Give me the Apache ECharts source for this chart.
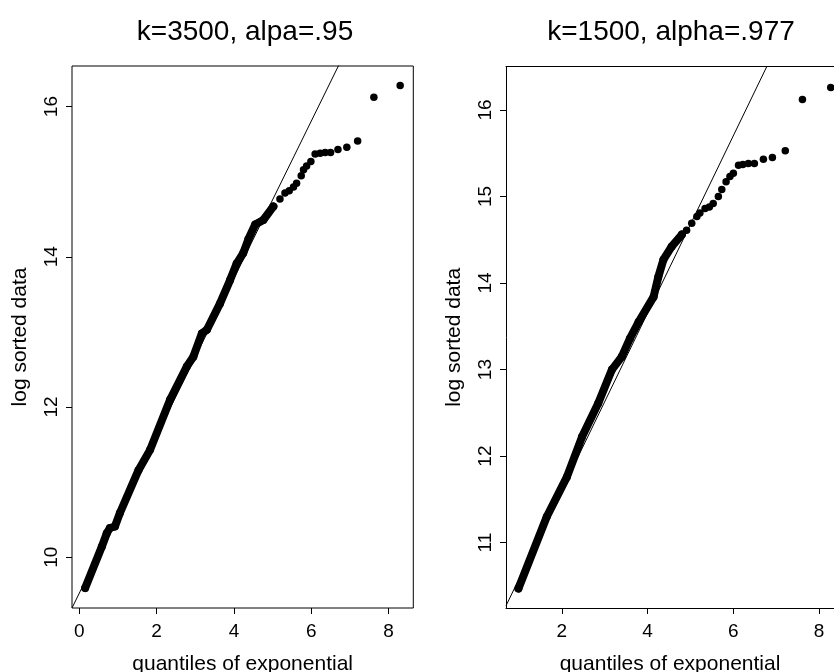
<!DOCTYPE html>
<html>
<head>
<meta charset="utf-8">
<script src="https://cdn.jsdelivr.net/npm/echarts@6/dist/echarts.min.js"></script>
<style>
html,body{margin:0;padding:0;background:#fff;}
#chart{width:834px;height:672px;}
</style>
</head>
<body>
<div id="chart"></div>
<script>
// ---- Titles / labels ----
var titles = ["k=3500, alpa=.95", "k=1500, alpha=.977"];
var xName = "quantiles of exponential";
var yName = "log sorted data";

// ---- Tick labels ----
var xTicksLeft = [0, 2, 4, 6, 8];
var yTicksLeft = [10, 12, 14, 16];
var xTicksRight = [2, 4, 6, 8];
var yTicksRight = [11, 12, 13, 14, 15, 16];

// ---- Axis ranges (right panel is cut by the page edge) ----
var xRangeLeft = [-0.19, 8.64];
var yRangeLeft = [9.325, 16.54];
var xRangeRight = [0.70, 8.346];
var yRangeRight = [10.245, 16.50];

// ---- Reference lines: [intercept, slope] ----
var refLineLeft = [9.524, 1.047];
var refLineRight = [9.553, 1.025];

// ---- Left panel (k=3500): dense band of points ----
var denseXLeft = [0.15, 0.58, 0.71, 0.79, 0.92, 1.05, 1.53, 1.83, 2.35, 2.78, 2.95, 3.17, 3.30, 3.64, 3.90, 4.07, 4.24, 4.37, 4.55, 4.76, 5.02];
var denseYLeft = [9.59, 10.14, 10.32, 10.39, 10.41, 10.59, 11.16, 11.43, 12.10, 12.54, 12.67, 12.98, 13.03, 13.38, 13.69, 13.91, 14.05, 14.23, 14.43, 14.49, 14.67];
// upper tail, individual points
var tailXLeft = [5.19, 5.32, 5.43, 5.54, 5.62, 5.74, 5.80, 5.88, 5.99, 6.10, 6.23, 6.36, 6.50, 6.69, 6.92, 7.20, 7.62, 8.30];
var tailYLeft = [14.77, 14.85, 14.88, 14.93, 14.98, 15.08, 15.16, 15.21, 15.27, 15.37, 15.38, 15.39, 15.39, 15.43, 15.46, 15.54, 16.125, 16.28];

// ---- Right panel (k=1500): dense band ----
var denseXRight = [0.99, 1.65, 2.12, 2.47, 2.85, 3.17, 3.40, 3.59, 3.79, 4.14, 4.25, 4.37, 4.56, 4.80];
var denseYRight = [10.47, 11.30, 11.76, 12.22, 12.61, 13.00, 13.15, 13.36, 13.55, 13.84, 14.07, 14.27, 14.42, 14.56];
var tailXRight = [4.91, 5.03, 5.15, 5.22, 5.34, 5.44, 5.53, 5.65, 5.73, 5.83, 5.92, 6.00, 6.12, 6.22, 6.35, 6.49, 6.70, 6.91, 7.21, 7.61, 8.27];
var tailYRight = [14.61, 14.69, 14.77, 14.81, 14.86, 14.88, 14.92, 15.00, 15.08, 15.17, 15.23, 15.27, 15.36, 15.37, 15.38, 15.38, 15.43, 15.45, 15.53, 16.12, 16.26];

function pairs(xs, ys) { return xs.map(function (x, i) { return [x, ys[i]]; }); }
function refLine(p, xr) { return [[xr[0], p[0] + p[1] * xr[0]], [xr[1], p[0] + p[1] * xr[1]]]; }

var FONT = "Liberation Sans, Arial, Helvetica, sans-serif";
var BLACK = '#000';

function xAxisCfg(idx, range, ticks, showLine) {
  return {
    type: 'value', gridIndex: idx, min: range[0], max: range[1], position: 'bottom',
    name: xName, nameLocation: 'middle', nameGap: 46,
    nameTextStyle: { color: BLACK, fontSize: 21, fontFamily: FONT },
    axisLine: { show: showLine, onZero: false, lineStyle: { color: BLACK, width: 1 } },
    axisTick: { show: true, length: 6, lineStyle: { color: BLACK, width: 1 }, customValues: ticks },
    axisLabel: { color: BLACK, fontSize: 19, fontFamily: FONT, margin: 14, customValues: ticks },
    splitLine: { show: false }
  };
}
function topAxisCfg(idx, range) {
  return {
    type: 'value', gridIndex: idx, min: range[0], max: range[1], position: 'top',
    axisLine: { show: true, onZero: false, lineStyle: { color: BLACK, width: 1 } },
    axisTick: { show: false }, axisLabel: { show: false }, splitLine: { show: false }
  };
}
function yAxisCfg(idx, range, ticks, showLine) {
  return {
    type: 'value', gridIndex: idx, min: range[0], max: range[1],
    name: yName, nameLocation: 'middle', nameGap: 41,
    nameTextStyle: { color: BLACK, fontSize: 21, fontFamily: FONT },
    axisLine: { show: showLine, onZero: false, lineStyle: { color: BLACK, width: 1 } },
    axisTick: { show: true, length: 6, lineStyle: { color: BLACK, width: 1 }, customValues: ticks },
    axisLabel: { color: BLACK, fontSize: 19, fontFamily: FONT, margin: 11, rotate: 90, customValues: ticks },
    splitLine: { show: false }
  };
}

function panelSeries(idx, denseX, denseY, tailX, tailY, ref, xr) {
  return [
    { type: 'line', xAxisIndex: idx, yAxisIndex: idx, data: refLine(ref, xr), symbol: 'none',
      lineStyle: { color: BLACK, width: 1 }, clip: true, silent: true, z: 2 },
    { type: 'line', xAxisIndex: idx, yAxisIndex: idx, data: pairs(denseX, denseY), symbol: 'circle', symbolSize: 8,
      itemStyle: { color: BLACK, opacity: 1 }, lineStyle: { color: BLACK, width: 8, cap: 'round', join: 'round', opacity: 1 }, clip: true, z: 3 },
    { type: 'scatter', xAxisIndex: idx, yAxisIndex: idx, data: pairs(tailX, tailY), symbol: 'circle', symbolSize: 7.5,
      itemStyle: { color: BLACK, opacity: 1 }, clip: true, z: 3 }
  ];
}

var chart = echarts.init(document.getElementById('chart'), null, { renderer: 'canvas' });
chart.setOption({
  animation: false,
  backgroundColor: '#fff',
  title: [
    { text: titles[0], left: 240, top: 13, textAlign: 'center', textStyle: { color: BLACK, fontSize: 28, fontWeight: 'normal', fontFamily: FONT } },
    { text: titles[1], left: 666, top: 13, textAlign: 'center', textStyle: { color: BLACK, fontSize: 28, fontWeight: 'normal', fontFamily: FONT } }
  ],
  grid: [
    { left: 72, top: 66, width: 341.3, height: 542, show: true, borderColor: BLACK, borderWidth: 1, backgroundColor: 'transparent', outerBoundsMode: 'none', containLabel: false },
    { left: 506, top: 66.7, right: 0, height: 541.3, show: false, outerBoundsMode: 'none', containLabel: false }
  ],
  xAxis: [xAxisCfg(0, xRangeLeft, xTicksLeft, false), xAxisCfg(1, xRangeRight, xTicksRight, true), topAxisCfg(1, xRangeRight)],
  yAxis: [yAxisCfg(0, yRangeLeft, yTicksLeft, false), yAxisCfg(1, yRangeRight, yTicksRight, true)],
  series: [].concat(
    panelSeries(0, denseXLeft, denseYLeft, tailXLeft, tailYLeft, refLineLeft, xRangeLeft),
    panelSeries(1, denseXRight, denseYRight, tailXRight, tailYRight, refLineRight, xRangeRight)
  )
});
</script>
</body>
</html>
